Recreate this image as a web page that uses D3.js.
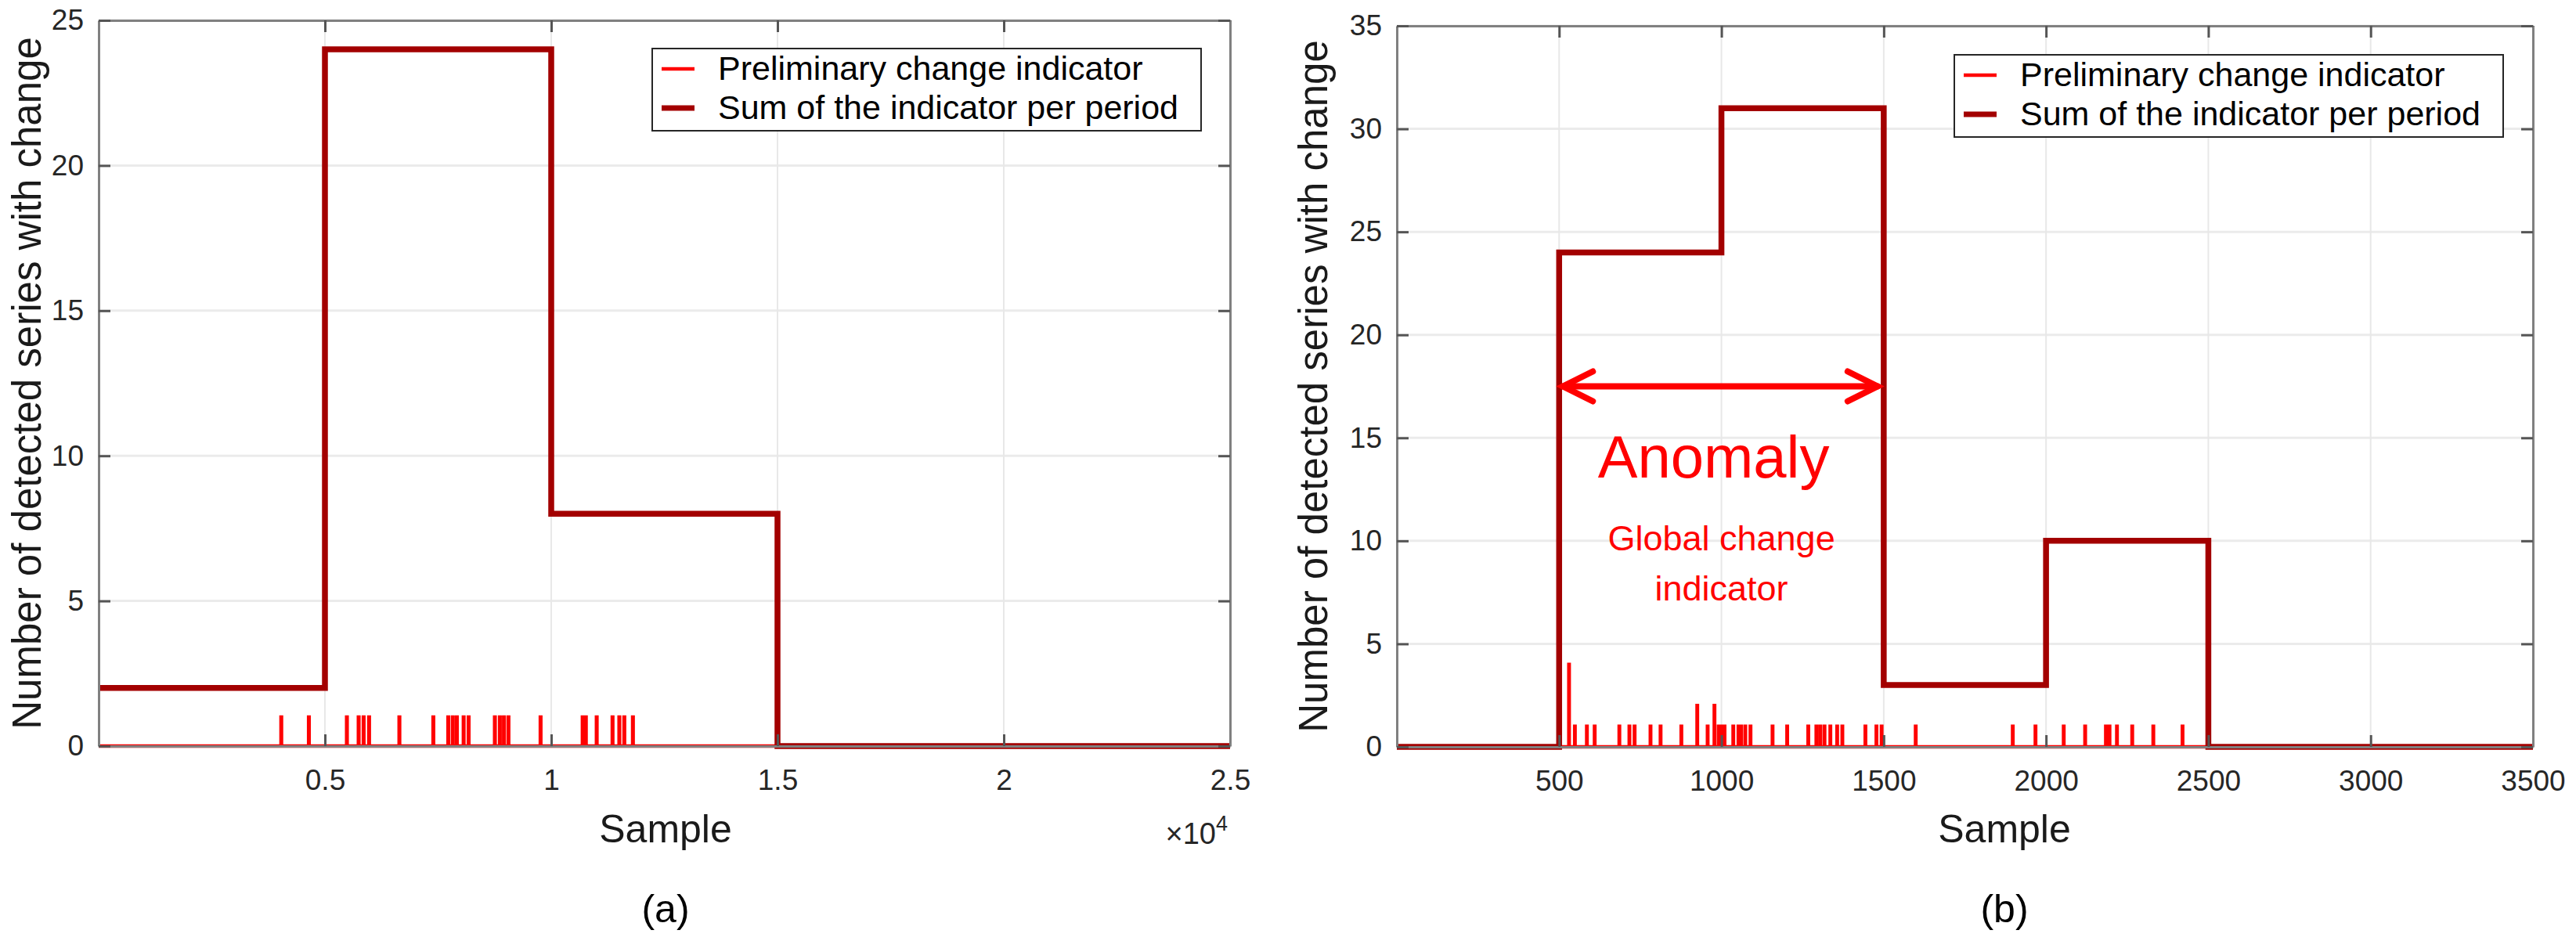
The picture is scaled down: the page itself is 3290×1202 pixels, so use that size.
<!DOCTYPE html>
<html>
<head>
<meta charset="utf-8">
<script src="https://cdn.jsdelivr.net/npm/d3@7"></script>
<style>
  body { margin: 0; background: #fff; }
  svg { display: block; font-family: "Liberation Sans", Arial, sans-serif; }
</style>
</head>
<body>
<svg id="chart" width="3290" height="1202"></svg>
<script>
/* Panel (a) */
const periodEdgesA = [0, 5000, 10000, 15000, 20000, 25000]
const periodSumsA = [2, 24, 8, 0, 0]
const spikesA = [4030, 4640, 5480, 5740, 5850, 5970, 6640, 7390, 7720, 7820, 7910, 8060, 8170,
  8750, 8860, 8950, 9050, 9760, 10690, 10760, 11000, 11350, 11500, 11610, 11800]
const spikeValuesA = [1, 1, 1, 1, 1, 1, 1, 1, 1, 1, 1, 1, 1, 1, 1, 1, 1, 1, 1, 1, 1, 1, 1, 1, 1]
const xTicksA = [5000, 10000, 15000, 20000, 25000]
const xTickLabelsA = ['0.5', '1', '1.5', '2', '2.5']
const yTicksA = [0, 5, 10, 15, 20, 25]

/* Panel (b) */
const periodEdgesB = [0, 500, 1000, 1500, 2000, 2500, 3000, 3500]
const periodSumsB = [0, 24, 31, 3, 10, 0, 0]
const spikesB = [530, 548, 585, 609, 685, 716, 732, 781, 812, 876, 925, 957, 978, 991, 1000, 1009,
  1036, 1052, 1060, 1073, 1089, 1157, 1202, 1267, 1292, 1304, 1317, 1335, 1356, 1372, 1443, 1477,
  1493, 1598, 1897, 1967, 2054, 2120, 2184, 2195, 2218, 2265, 2330, 2420]
const spikeValuesB = [4, 1, 1, 1, 1, 1, 1, 1, 1, 1, 2, 1, 2, 1, 1, 1,
  1, 1, 1, 1, 1, 1, 1, 1, 1, 1, 1, 1, 1, 1, 1, 1,
  1, 1, 1, 1, 1, 1, 1, 1, 1, 1, 1, 1]
const xTicksB = [500, 1000, 1500, 2000, 2500, 3000, 3500]
const xTickLabelsB = ['500', '1000', '1500', '2000', '2500', '3000', '3500']
const yTicksB = [0, 5, 10, 15, 20, 25, 30, 35]

/* Anomaly annotation in (b) */
const anomalyRange = [500, 1500]
const anomalyLevel = 17.5
const anomalyLabelAt = 1000

const legendLabels = ['Preliminary change indicator', 'Sum of the indicator per period']

const RED = '#ff0000'
const DARK_RED = '#a30000'
const svg = d3.select('#chart')

function dibujarPanel(cfg) {
    const x = d3.scaleLinear().domain(cfg.xDomain).range([cfg.x0, cfg.x1])
    const y = d3.scaleLinear().domain(cfg.yDomain).range([cfg.yBot, cfg.yTop])
    const g = svg.append('g')

    /* grid */
    g.append('g').selectAll('line').data(cfg.yTicks).enter().append('line')
        .attr('x1', cfg.x0).attr('x2', cfg.x1)
        .attr('y1', d => y(d)).attr('y2', d => y(d))
        .attr('stroke', '#ebebeb').attr('stroke-width', 3)
    g.append('g').selectAll('line').data(cfg.xTicks).enter().append('line')
        .attr('y1', cfg.yTop).attr('y2', cfg.yBot)
        .attr('x1', d => x(d)).attr('x2', d => x(d))
        .attr('stroke', '#e8e8e8').attr('stroke-width', 2)

    /* preliminary indicator pulses */
    let pts = [[cfg.xDomain[0], 0]]
    cfg.spikes.forEach((s, i) => {
        const h = cfg.spikeValues[i]
        pts.push([s, 0], [s, h], [s + cfg.spikeWidth, h], [s + cfg.spikeWidth, 0])
    })
    pts.push([cfg.xDomain[1], 0])
    const linea = d3.line().x(d => x(d[0])).y(d => y(d[1]))
    g.append('path').attr('d', linea(pts))
        .attr('fill', 'none').attr('stroke', RED).attr('stroke-width', 4.5)
        .attr('stroke-linejoin', 'miter')

    /* sum per period */
    let sumPts = cfg.sums.map((v, i) => [cfg.edges[i], v])
    sumPts.push([cfg.edges[cfg.edges.length - 1], cfg.sums[cfg.sums.length - 1]])
    const escalon = d3.line().x(d => x(d[0])).y(d => y(d[1])).curve(d3.curveStepAfter)
    g.append('path').attr('d', escalon(sumPts))
        .attr('fill', 'none').attr('stroke', DARK_RED).attr('stroke-width', 7.5)
        .attr('stroke-linejoin', 'miter')

    /* axes */
    const estilo = sel => {
        sel.attr('font-size', 37).attr('font-family', null)
        sel.select('.domain').attr('stroke', '#808080').attr('stroke-width', 3)
        sel.selectAll('.tick line').attr('stroke', '#555').attr('stroke-width', 3)
        sel.selectAll('.tick text').attr('fill', '#262626')
    }
    g.append('g').attr('transform', `translate(0,${cfg.yBot})`)
        .call(d3.axisBottom(x).tickValues(cfg.xTicks).tickFormat((d, i) => cfg.xTickLabels[i])
            .tickSizeInner(-15).tickSizeOuter(0).tickPadding(30))
        .call(estilo)
    g.append('g').attr('transform', `translate(0,${cfg.yTop})`)
        .call(d3.axisTop(x).tickValues(cfg.xTicks).tickFormat(() => '')
            .tickSizeInner(-15).tickSizeOuter(0))
        .call(estilo)
    g.append('g').attr('transform', `translate(${cfg.x0},0)`)
        .call(d3.axisLeft(y).tickValues(cfg.yTicks).tickFormat(d3.format('d'))
            .tickSizeInner(-15).tickSizeOuter(0).tickPadding(19))
        .call(estilo)
    g.append('g').attr('transform', `translate(${cfg.x1},0)`)
        .call(d3.axisRight(y).tickValues(cfg.yTicks).tickFormat(() => '')
            .tickSizeInner(-15).tickSizeOuter(0))
        .call(estilo)

    /* labels */
    g.append('text').attr('x', cfg.xLabelX).attr('y', 1076)
        .attr('text-anchor', 'middle').attr('font-size', 50).attr('fill', '#1a1a1a')
        .text('Sample')
    g.append('text')
        .attr('transform', `translate(${cfg.yLabelX},${(cfg.yTop + cfg.yBot) / 2}) rotate(-90)`)
        .attr('text-anchor', 'middle').attr('font-size', 51).attr('fill', '#1a1a1a')
        .text('Number of detected series with change')
    g.append('text').attr('x', cfg.xLabelX).attr('y', 1178)
        .attr('text-anchor', 'middle').attr('font-size', 50).attr('fill', '#000')
        .text(cfg.caption)

    /* legend */
    const lg = g.append('g').attr('transform', `translate(${cfg.legendX},${cfg.legendY})`)
    lg.append('rect').attr('width', 701).attr('height', 105)
        .attr('fill', '#fff').attr('stroke', '#262626').attr('stroke-width', 2)
    const filas = [{ c: RED, w: 4.5 }, { c: DARK_RED, w: 7 }]
    filas.forEach((f, i) => {
        const cy = 26 + i * 50
        lg.append('line').attr('x1', 12).attr('x2', 54).attr('y1', cy).attr('y2', cy)
            .attr('stroke', f.c).attr('stroke-width', f.w)
        lg.append('text').attr('x', 84).attr('y', cy + 14)
            .attr('font-size', 43).attr('fill', '#000').text(legendLabels[i])
    })

    return { g, x, y }
}

const panelA = dibujarPanel({
    x0: 126, x1: 1571, yTop: 26, yBot: 953,
    xDomain: [0, 25000], yDomain: [0, 25],
    xTicks: xTicksA, xTickLabels: xTickLabelsA, yTicks: yTicksA,
    edges: periodEdgesA, sums: periodSumsA,
    spikes: spikesA, spikeValues: spikeValuesA, spikeWidth: 10,
    xLabelX: 850, yLabelX: 52, caption: '(a)',
    legendX: 833, legendY: 62
})

/* x10^4 multiplier */
const mult = panelA.g.append('text').attr('x', 1568).attr('y', 1078)
    .attr('text-anchor', 'end').attr('fill', '#262626')
mult.append('tspan').attr('font-size', 38).text('×10')
mult.append('tspan').attr('font-size', 27).attr('dy', -17).text('4')

const panelB = dibujarPanel({
    x0: 1784, x1: 3235, yTop: 33, yBot: 954,
    xDomain: [0, 3500], yDomain: [0, 35],
    xTicks: xTicksB, xTickLabels: xTickLabelsB, yTicks: yTicksB,
    edges: periodEdgesB, sums: periodSumsB,
    spikes: spikesB, spikeValues: spikeValuesB, spikeWidth: 1,
    xLabelX: 2560, yLabelX: 1695, caption: '(b)',
    legendX: 2496, legendY: 70
})

/* anomaly arrow */
const xB = panelB.x, yB = panelB.y
const ax1 = xB(anomalyRange[0]) + 5, ax2 = xB(anomalyRange[1]) - 8, ay = yB(anomalyLevel)
const flecha = panelB.g.append('g').attr('stroke', RED).attr('stroke-width', 8)
    .attr('fill', 'none').attr('stroke-linecap', 'round')
flecha.append('line').attr('x1', ax1).attr('x2', ax2).attr('y1', ay).attr('y2', ay)
flecha.append('path').attr('d', `M${ax1 + 38},${ay - 19} L${ax1},${ay} L${ax1 + 38},${ay + 19}`)
flecha.append('path').attr('d', `M${ax2 - 38},${ay - 19} L${ax2},${ay} L${ax2 - 38},${ay + 19}`)

const xc = xB(anomalyLabelAt)
panelB.g.append('text').attr('x', xc - 10).attr('y', 610)
    .attr('text-anchor', 'middle').attr('font-size', 76).attr('fill', RED).text('Anomaly')
panelB.g.append('text').attr('x', xc).attr('y', 703)
    .attr('text-anchor', 'middle').attr('font-size', 45).attr('fill', RED).text('Global change')
panelB.g.append('text').attr('x', xc).attr('y', 767)
    .attr('text-anchor', 'middle').attr('font-size', 45).attr('fill', RED).text('indicator')
</script>
</body>
</html>
